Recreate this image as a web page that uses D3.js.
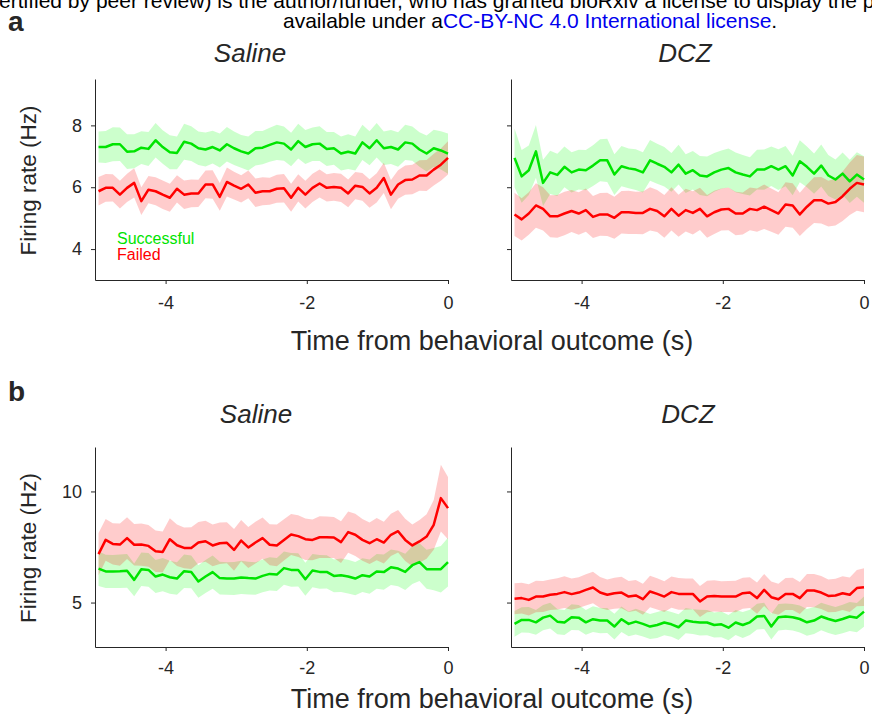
<!DOCTYPE html>
<html>
<head>
<meta charset="utf-8">
<script src="https://cdn.jsdelivr.net/npm/d3@7"></script>
<style>
  body { margin: 0; background: #fff; }
  svg { display: block; font-family: "Liberation Sans", Arial, sans-serif; }
</style>
</head>
<body>
<svg id="chart"></svg>
<script>
// firing rate (Hz), 50 bins before the behavioral outcome
// panel a, Saline
var aSalSucc = [7.30,7.30,7.39,7.39,7.15,7.16,7.28,7.24,7.52,7.30,7.13,7.11,7.47,7.41,7.26,7.22,7.30,7.19,7.39,7.26,7.16,7.09,7.26,7.28,7.37,7.45,7.41,7.22,7.49,7.30,7.39,7.41,7.24,7.26,7.09,7.15,7.09,7.45,7.26,7.52,7.26,7.30,7.22,7.45,7.41,7.22,7.09,7.26,7.19,7.09];
var aSalSuccSem = [0.50,0.52,0.55,0.54,0.56,0.55,0.53,0.55,0.56,0.54,0.55,0.53,0.58,0.56,0.54,0.55,0.53,0.55,0.56,0.54,0.53,0.55,0.56,0.54,0.55,0.57,0.55,0.54,0.56,0.55,0.54,0.56,0.55,0.53,0.55,0.56,0.55,0.57,0.55,0.56,0.54,0.55,0.56,0.57,0.55,0.56,0.58,0.60,0.62,0.65];
var aSalFail = [5.87,5.98,5.98,5.76,5.98,6.14,5.55,5.92,5.87,5.76,5.66,5.95,5.76,5.80,5.80,6.09,6.09,5.69,6.17,6.05,5.95,6.09,5.82,5.87,5.87,5.95,5.97,5.66,5.98,5.76,5.98,6.12,5.98,6.01,5.98,5.80,6.05,6.01,5.80,5.98,6.30,5.76,6.09,6.23,6.25,6.38,6.38,6.57,6.73,6.95];
var aSalFailSem = [0.46,0.45,0.44,0.45,0.46,0.47,0.45,0.44,0.45,0.46,0.45,0.44,0.46,0.45,0.44,0.45,0.46,0.45,0.47,0.45,0.44,0.45,0.46,0.45,0.44,0.45,0.46,0.45,0.44,0.45,0.46,0.45,0.44,0.45,0.46,0.45,0.44,0.45,0.46,0.47,0.49,0.47,0.46,0.47,0.48,0.49,0.50,0.51,0.52,0.54];
// panel a, DCZ
var aDczSucc = [6.95,6.35,6.55,7.16,6.14,6.48,6.40,6.66,6.48,6.57,6.55,6.70,6.87,6.87,6.41,6.68,6.61,6.57,6.48,6.87,6.76,6.66,6.48,6.73,6.44,6.55,6.38,6.35,6.48,6.57,6.62,6.48,6.41,6.35,6.57,6.57,6.68,6.57,6.68,6.38,6.84,6.66,6.44,6.70,6.38,6.25,6.44,6.19,6.41,6.25];
var aDczSuccSem = [0.95,0.85,0.80,0.85,0.75,0.70,0.68,0.66,0.65,0.64,0.65,0.66,0.68,0.70,0.66,0.65,0.64,0.66,0.65,0.66,0.65,0.64,0.63,0.64,0.63,0.62,0.63,0.64,0.63,0.62,0.63,0.64,0.63,0.62,0.64,0.65,0.64,0.66,0.65,0.64,0.68,0.66,0.65,0.68,0.66,0.65,0.68,0.70,0.72,0.75];
var aDczFail = [5.12,4.96,5.15,5.41,5.30,5.06,5.06,5.15,5.23,5.15,5.26,5.04,5.12,5.12,5.01,5.19,5.19,5.17,5.17,5.30,5.23,5.06,5.30,5.08,5.26,5.17,5.30,5.06,5.19,5.28,5.30,5.15,5.15,5.30,5.26,5.37,5.26,5.15,5.44,5.41,5.12,5.37,5.58,5.58,5.47,5.52,5.71,5.95,6.14,6.09];
var aDczFailSem = [0.70,0.68,0.69,0.72,0.70,0.68,0.69,0.70,0.68,0.69,0.70,0.68,0.69,0.70,0.68,0.69,0.70,0.68,0.69,0.70,0.68,0.69,0.70,0.68,0.69,0.70,0.68,0.69,0.70,0.68,0.69,0.70,0.68,0.69,0.70,0.72,0.70,0.69,0.72,0.72,0.70,0.72,0.74,0.75,0.74,0.76,0.80,0.85,0.90,0.90];
// panel b, Saline
var bSalSucc = [6.53,6.40,6.40,6.41,6.43,6.02,6.50,6.47,6.17,6.26,6.14,6.08,6.41,6.38,5.95,6.17,6.37,6.10,6.08,6.08,6.13,6.10,6.08,6.20,6.29,6.26,6.55,6.47,6.47,6.05,6.44,6.38,6.38,6.20,6.23,6.17,6.08,6.23,6.17,6.40,6.37,6.59,6.53,6.38,6.68,6.82,6.50,6.50,6.50,6.82];
var bSalSuccSem = [0.78,0.75,0.74,0.75,0.76,0.74,0.75,0.76,0.74,0.75,0.74,0.73,0.75,0.74,0.73,0.74,0.75,0.74,0.73,0.74,0.75,0.74,0.73,0.74,0.75,0.74,0.75,0.76,0.75,0.74,0.75,0.76,0.75,0.74,0.75,0.76,0.75,0.76,0.77,0.78,0.79,0.80,0.80,0.82,0.85,0.85,0.88,0.95,1.05,1.10];
var bSalFail = [7.18,7.82,7.64,7.61,7.90,7.60,7.61,7.55,7.31,7.28,7.85,7.58,7.46,7.45,7.70,7.76,7.57,7.67,7.69,7.37,7.79,7.48,7.70,7.90,7.60,7.57,7.82,8.06,7.99,7.85,7.82,7.94,7.94,7.93,7.72,8.17,8.05,7.82,7.67,7.85,7.70,8.05,8.21,7.82,7.57,7.75,7.97,8.50,9.70,9.25];
var bSalFailSem = [0.95,0.94,0.93,0.95,0.94,0.93,0.95,0.94,0.93,0.92,0.94,0.93,0.92,0.94,0.93,0.92,0.94,0.93,0.92,0.94,0.93,0.92,0.94,0.93,0.92,0.94,0.93,0.92,0.94,0.93,0.92,0.94,0.93,0.92,0.94,0.93,0.95,0.94,0.93,0.95,0.94,0.95,0.96,0.95,0.94,0.96,1.00,1.12,1.50,1.40];
// panel b, DCZ
var bDczSucc = [4.04,4.22,4.22,4.11,4.32,4.41,4.14,4.10,4.34,4.32,4.11,4.25,4.19,4.19,3.92,4.25,4.04,4.14,4.04,3.92,3.99,4.10,4.02,3.89,4.19,4.14,4.10,4.10,3.99,4.02,3.87,4.10,3.99,4.11,4.37,4.40,3.92,4.34,4.37,4.34,4.26,4.11,4.19,4.37,4.26,4.17,4.26,4.37,4.32,4.59];
var bDczSuccSem = [0.58,0.57,0.58,0.56,0.57,0.58,0.57,0.56,0.58,0.57,0.56,0.58,0.57,0.56,0.58,0.57,0.56,0.58,0.57,0.56,0.58,0.57,0.56,0.58,0.57,0.56,0.58,0.57,0.56,0.58,0.57,0.56,0.58,0.57,0.58,0.59,0.58,0.60,0.59,0.60,0.61,0.60,0.61,0.62,0.63,0.63,0.64,0.65,0.66,0.68];
var bDczFail = [5.17,5.20,5.12,5.27,5.27,5.35,5.39,5.47,5.38,5.45,5.57,5.68,5.45,5.35,5.42,5.45,5.27,5.32,5.15,5.50,5.39,5.27,5.47,5.39,5.38,5.39,5.05,5.27,5.30,5.27,5.27,5.27,5.42,5.45,5.20,5.57,5.24,5.15,5.39,5.39,5.20,5.54,5.54,5.45,5.30,5.32,5.42,5.35,5.65,5.69];
var bDczFailSem = [0.70,0.69,0.70,0.71,0.70,0.69,0.70,0.71,0.70,0.69,0.70,0.71,0.70,0.69,0.70,0.71,0.70,0.69,0.70,0.71,0.70,0.69,0.70,0.71,0.70,0.69,0.70,0.71,0.70,0.69,0.70,0.71,0.70,0.69,0.70,0.72,0.71,0.70,0.72,0.73,0.72,0.74,0.75,0.74,0.74,0.75,0.76,0.78,0.82,0.85];

var aTicks = [4, 6, 8];
var bTicks = [5, 10];
var xTicks = [-4, -2, 0];

// bin times, evenly spaced from -4.95 s to 0 s
var times = d3.range(50).map(function(i) { return -4.95 + i * 4.95 / 49; });

var succColor = '#00e400',
    failColor = '#ff0000',
    inkColor = '#262626';

var chart = d3.select('#chart')
    .attr('width', 872)
    .attr('height', 715);

chart.append('rect').attr('width', 872).attr('height', 715).attr('fill', '#fff');

// header text from the preprint page (cut at the top edge, as in the source)
chart.append('text')
    .attr('x', -1).attr('y', 7.5)
    .attr('font-size', 21).attr('fill', '#000')
    .text('ertified by peer review) is the author/funder, who has granted bioRxiv a license to display the p');
var lic = chart.append('text')
    .attr('x', 283).attr('y', 28)
    .attr('font-size', 21).attr('fill', '#000');
lic.append('tspan').text('available under a');
lic.append('tspan').attr('fill', '#0000ee').text('CC-BY-NC 4.0 International license');
lic.append('tspan').text('.');

// layout of the four panels
var panels = [
    { succ: aSalSucc, succSem: aSalSuccSem, fail: aSalFail, failSem: aSalFailSem,
      left: 95, right: 448, top: 79, bottom: 280, domain: [3, 9.5], ticks: aTicks,
      labels: true, title: 'Saline', titleX: 250, titleY: 62, legend: true },
    { succ: aDczSucc, succSem: aDczSuccSem, fail: aDczFail, failSem: aDczFailSem,
      left: 511, right: 864, top: 79, bottom: 280, domain: [3, 9.5], ticks: aTicks,
      labels: false, title: 'DCZ', titleX: 685, titleY: 62 },
    { succ: bSalSucc, succSem: bSalSuccSem, fail: bSalFail, failSem: bSalFailSem,
      left: 95, right: 448, top: 447, bottom: 647, domain: [3, 12], ticks: bTicks,
      labels: true, title: 'Saline', titleX: 256, titleY: 423 },
    { succ: bDczSucc, succSem: bDczSuccSem, fail: bDczFail, failSem: bDczFailSem,
      left: 511, right: 864, top: 447, bottom: 647, domain: [3, 12], ticks: bTicks,
      labels: false, title: 'DCZ', titleX: 688, titleY: 423 }
];

panels.forEach(function(p) {
    var x = d3.scaleLinear().domain([-5, 0]).range([p.left, p.right]);
    var y = d3.scaleLinear().domain(p.domain).range([p.bottom, p.top]);

    var g = chart.append('g');

    function band(mean, sem, color) {
        var area = d3.area()
            .x(function(d, i) { return x(times[i]); })
            .y0(function(d, i) { return y(d - sem[i]); })
            .y1(function(d, i) { return y(d + sem[i]); });
        g.append('path')
            .datum(mean)
            .attr('d', area)
            .attr('fill', color)
            .attr('fill-opacity', 0.2);
    }
    function meanLine(mean, color) {
        var line = d3.line()
            .x(function(d, i) { return x(times[i]); })
            .y(function(d) { return y(d); });
        g.append('path')
            .datum(mean)
            .attr('d', line)
            .attr('fill', 'none')
            .attr('stroke', color)
            .attr('stroke-width', 2.5)
            .attr('stroke-linejoin', 'round');
    }

    band(p.succ, p.succSem, '#00ff00');
    band(p.fail, p.failSem, failColor);
    meanLine(p.succ, succColor);
    meanLine(p.fail, failColor);

    // y axis
    var yAxis = g.append('g')
        .attr('transform', 'translate(' + p.left + ',0)')
        .call(d3.axisLeft(y).tickValues(p.ticks).tickSize(4).tickSizeOuter(0).tickPadding(9)
            .tickFormat(p.labels ? function(d) { return String(d); } : ''));

    // x axis
    var xAxis = g.append('g')
        .attr('transform', 'translate(0,' + p.bottom + ')')
        .call(d3.axisBottom(x).tickValues(xTicks).tickSize(4).tickSizeOuter(0).tickPadding(p.top < 200 ? 12 : 10)
            .tickFormat(function(d) { return String(d); }));

    [yAxis, xAxis].forEach(function(ax) {
        ax.selectAll('path, line').attr('stroke', inkColor);
        ax.selectAll('text')
            .attr('fill', inkColor)
            .attr('font-size', 18)
            .attr('font-family', '"Liberation Sans", Arial, sans-serif');
    });

    g.append('text')
        .attr('x', p.titleX).attr('y', p.titleY)
        .attr('text-anchor', 'middle')
        .attr('font-size', 26).attr('font-style', 'italic')
        .attr('fill', inkColor)
        .text(p.title);

    if (p.labels) {
        g.append('text')
            .attr('transform', 'translate(36,' + ((p.top + p.bottom) / 2 + 1) + ') rotate(-90)')
            .attr('text-anchor', 'middle')
            .attr('font-size', 22.5)
            .attr('fill', inkColor)
            .text('Firing rate (Hz)');
    }

    if (p.legend) {
        g.append('text').attr('x', 117).attr('y', 244)
            .attr('font-size', 16).attr('fill', succColor).text('Successful');
        g.append('text').attr('x', 117).attr('y', 260)
            .attr('font-size', 16).attr('fill', failColor).text('Failed');
    }
});

// shared x axis titles and panel letters
[350, 708].forEach(function(yPos) {
    chart.append('text')
        .attr('x', 492).attr('y', yPos)
        .attr('text-anchor', 'middle')
        .attr('font-size', 27).attr('fill', inkColor)
        .text('Time from behavioral outcome (s)');
});

chart.append('text').attr('x', 8).attr('y', 31)
    .attr('font-size', 28).attr('font-weight', 'bold').attr('fill', inkColor).text('a');
chart.append('text').attr('x', 8).attr('y', 401)
    .attr('font-size', 28).attr('font-weight', 'bold').attr('fill', inkColor).text('b');
</script>
</body>
</html>
